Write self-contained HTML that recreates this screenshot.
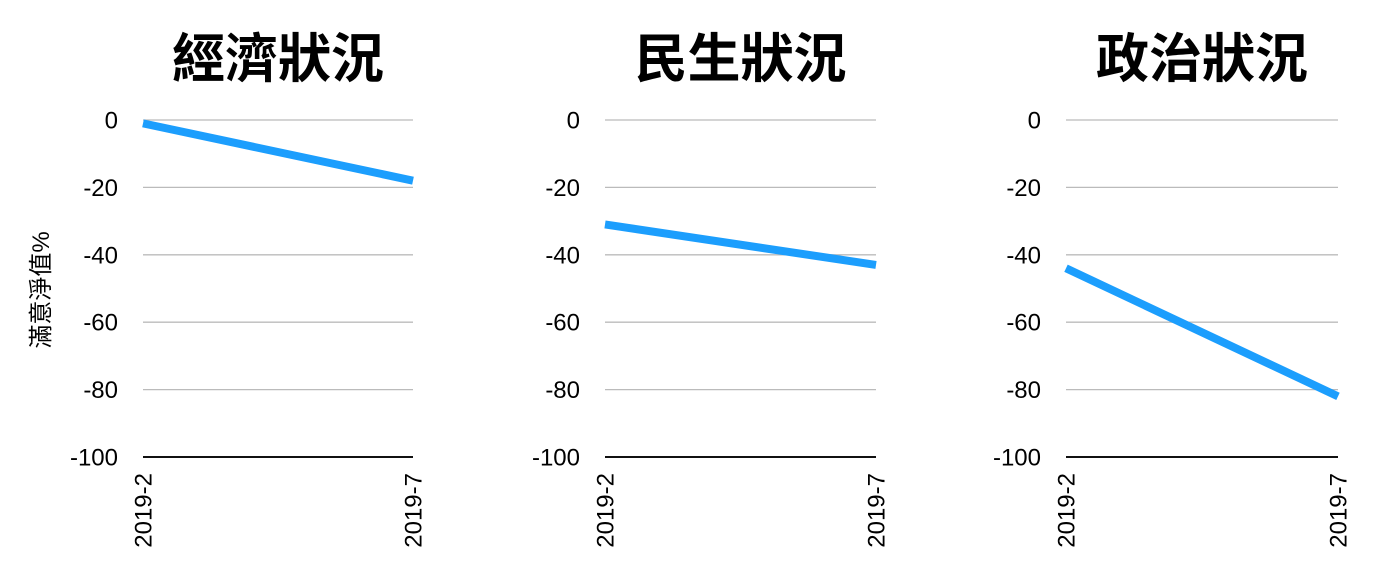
<!DOCTYPE html>
<html><head><meta charset="utf-8">
<style>
body{margin:0;background:#fff;}
svg{display:block;font-family:"Liberation Sans","Noto Sans CJK TC",sans-serif;}
</style></head>
<body>
<svg id="c" width="1400" height="583"></svg>
<script>
const titles = ["經濟狀況","民生狀況","政治狀況"];
const categories = ["2019-2","2019-7"];
const econValues = [-1, -18];
const livelihoodValues = [-31, -43];
const politicsValues = [-44, -82];
const tickValues = [0,-20,-40,-60,-80,-100];
const series = [econValues, livelihoodValues, politicsValues];
const panelX = [[143,413],[605,876],[1066,1338]];
const ns = "http://www.w3.org/2000/svg";
const svg = document.getElementById('c');
function yScale(v){ return 120 + (0 - v) * 3.37; }
function mk(tag, attrs, parent){
  const e = document.createElementNS(ns, tag);
  for (const k in attrs) e.setAttribute(k, attrs[k]);
  (parent||svg).appendChild(e);
  return e;
}
const yt = mk('text',{x:0,y:0,'font-size':24,'text-anchor':'middle',transform:'translate(49,290) rotate(-90)',fill:'#000'});
yt.textContent = "滿意淨值%";


series.forEach((vals, p) => {
  const [x0, x1] = panelX[p];
  const g = mk('g',{});
  
  
  const xScale = i => x0 + (x1 - x0) * i / (categories.length - 1);
  const t = mk('text',{x:(x0+x1)/2,y:77,'font-size':53,'font-weight':'bold','text-anchor':'middle',fill:'#000'},g);
  t.textContent = titles[p];
  
  
  tickValues.forEach(v => {
    const y = yScale(v);
    const l = mk('line',{x1:x0,x2:x1,y1:y,y2:y,stroke:v===-100?'#111':'#bbb','stroke-width':v===-100?2:1.3},g);
    
    
    const tl = mk('text',{x:x0-25,y:y+8.5,'font-size':24,'text-anchor':'end',fill:'#000'},g);
    tl.textContent = String(v);
    
    
  });
  categories.forEach((c, i) => {
    const x = xScale(i);
    const xl = mk('text',{x:0,y:0,'font-size':24,'text-anchor':'end',transform:`translate(${x+8.5},473) rotate(-90)`,fill:'#000'},g);
    xl.textContent = c;
    
    
  });
  const pts = vals.map((v,i) => xScale(i) + ',' + yScale(v)).join(' ');
  const line = mk('polyline',{points:pts,fill:'none',stroke:'#1c9efd','stroke-width':8},g);
  
  
});
</script>
</body></html>
